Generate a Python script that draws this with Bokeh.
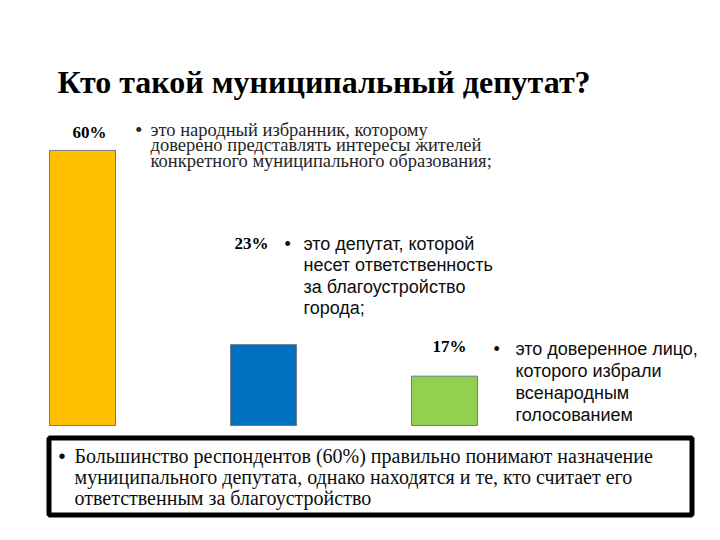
from bokeh.plotting import figure
from bokeh.models import Range1d
from bokeh.embed import file_html
from bokeh.resources import INLINE
from bokeh.core.properties import value

# ---------------- data ----------------
title_text = "Кто такой муниципальный депутат?"
categories = ["народный избранник", "ответственный за благоустройство", "доверенное лицо"]
shares = [60, 23, 17]
share_labels = ["60%", "23%", "17%"]
bar_colors = ["#FFC000", "#0070C0", "#92D050"]

desc_1 = ["это народный избранник, которому",
          "доверено представлять интересы жителей",
          "конкретного муниципального образования;"]
desc_2 = ["это депутат, которой",
          "несет ответственность",
          "за благоустройство",
          "города;"]
desc_3 = ["это доверенное лицо,",
          "которого избрали",
          "всенародным",
          "голосованием"]
summary = ["Большинство респондентов (60%) правильно понимают назначение",
           "муниципального депутата, однако находятся и те, кто считает его",
           "ответственным за благоустройство"]

# ---------------- layout helpers (page pixels -> data) ----------------
W, H = 704, 524
BASE = 7.6          # value at bar baseline
PX_PER_UNIT_Y = 5.25
BASE_Y = 425.0      # page y of bar baseline
X0, DXP = 82.0, 181.0
TEXT_SHIFT = -7.0


def dx(X):
    return (X - X0) / DXP


def dy(Y):
    return BASE + (BASE_Y - Y) / PX_PER_UNIT_Y


def ty(Y):
    return dy(Y + TEXT_SHIFT)


p = figure(width=W, height=H, output_backend="svg", toolbar_location=None,
           x_range=Range1d(dx(0), dx(W)), y_range=Range1d(dy(H), dy(0)),
           min_border=0, outline_line_color=None, background_fill_color="white",
           border_fill_color="white")
p.axis.visible = False
p.xgrid.visible = False
p.ygrid.visible = False

# bars
p.vbar(x=list(range(len(shares))), top=shares, bottom=BASE, width=66 / DXP,
       fill_color=bar_colors, line_color="#6d7b8d", line_width=1)

# title
p.text(x=[dx(57)], y=[ty(88)], text=[title_text], text_font=value("Liberation Serif"),
       text_font_size="32px", text_font_style="bold", text_color="black",
       text_baseline="alphabetic", text_align="left")

# share labels
lab_x = [72, 234, 432]
lab_y = [139, 250, 353]
p.text(x=[dx(v) for v in lab_x], y=[ty(v) for v in lab_y], text=share_labels,
       text_font=value("Liberation Serif"), text_font_size="17px", text_font_style="bold",
       text_color="black", text_baseline="alphabetic", text_align="left")


def block(lines, bx, tx, y0, step, font, size, color):
    ys = [ty(y0 + i * step) for i in range(len(lines))]
    p.text(x=[dx(tx)] * len(lines), y=ys, text=lines, text_font=value(font),
           text_font_size=size, text_color=color, text_baseline="alphabetic",
           text_align="left")
    p.text(x=[dx(bx)], y=[ys[0]], text=["•"], text_font=value("Liberation Sans"),
           text_font_size=size, text_color=color, text_baseline="alphabetic",
           text_align="left")


block(desc_1, 135, 150, 136, 15.5, "Liberation Serif", "18.5px", "#262626")
block(desc_2, 284, 303, 250, 21.5, "Liberation Sans", "18px", "#0d0d0d")
block(desc_3, 493, 515, 355, 22, "Liberation Sans", "18px", "#0d0d0d")

# summary box
p.quad(left=dx(48.5), right=dx(691.5), top=dy(437.5), bottom=dy(514.5),
       fill_color="white", line_color="black", line_width=5)
block(summary, 58, 74, 462, 21, "Liberation Serif", "20px", "#0d0d0d")

open("out.html", "w").write(file_html(p, INLINE))
